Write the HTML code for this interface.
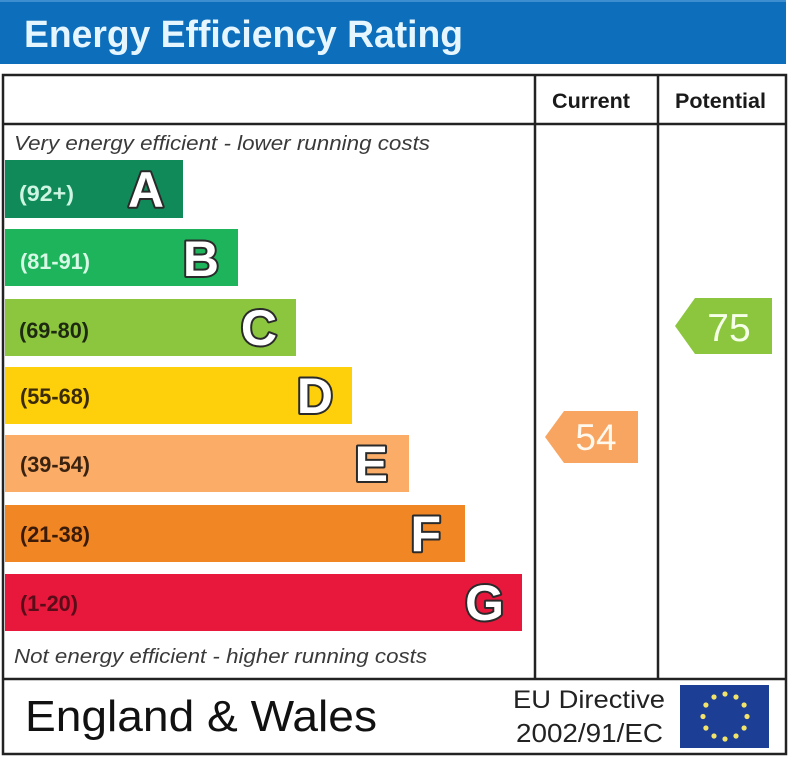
<!DOCTYPE html>
<html>
<head>
<meta charset="utf-8">
<style>
  html, body { margin: 0; padding: 0; background: #fff; }
  body { width: 800px; height: 765px; overflow: hidden; }
  svg { display: block; }
  text { font-family: "Liberation Sans", Arial, sans-serif; }
  .lbl { font-weight: bold; font-size: 22px; }
  .let { font-weight: bold; font-size: 50px; fill: #ffffff; stroke: #2a2a2a; stroke-width: 4; paint-order: stroke; stroke-linejoin: round; }
</style>
</head>
<body>
<svg width="800" height="765" viewBox="0 0 800 765" xmlns="http://www.w3.org/2000/svg">
  <rect x="0" y="0" width="800" height="765" fill="#ffffff"/>

  <!-- Title bar -->
  <rect x="0" y="0" width="786" height="64" fill="#0d6fbb"/>
  <rect x="0" y="0" width="786" height="2" fill="#3d8ed0"/>
  <text x="24" y="47" font-size="38" font-weight="bold" fill="#e6f6ff" textLength="439" lengthAdjust="spacingAndGlyphs">Energy Efficiency Rating</text>

  <!-- Table frame -->
  <rect x="3" y="75" width="783" height="679" fill="none" stroke="#222" stroke-width="2.5"/>
  <line x1="3" y1="124" x2="786" y2="124" stroke="#222" stroke-width="2.5"/>
  <line x1="535" y1="75" x2="535" y2="679" stroke="#222" stroke-width="2.5"/>
  <line x1="658" y1="75" x2="658" y2="679" stroke="#222" stroke-width="2.5"/>
  <line x1="3" y1="679" x2="786" y2="679" stroke="#222" stroke-width="2.5"/>

  <!-- Headers -->
  <text x="552" y="108" font-size="21" font-weight="bold" fill="#1a1a1a" textLength="78" lengthAdjust="spacingAndGlyphs">Current</text>
  <text x="675" y="108" font-size="21" font-weight="bold" fill="#1a1a1a" textLength="91" lengthAdjust="spacingAndGlyphs">Potential</text>

  <!-- Top/bottom captions -->
  <text x="14" y="150" font-size="20" font-style="italic" fill="#3a3a3a" textLength="416" lengthAdjust="spacingAndGlyphs">Very energy efficient - lower running costs</text>
  <text x="14" y="663" font-size="20" font-style="italic" fill="#3a3a3a" textLength="413" lengthAdjust="spacingAndGlyphs">Not energy efficient - higher running costs</text>

  <!-- Bands -->
  <rect x="5" y="160" width="178" height="58" fill="#118a5a"/>
  <text class="lbl" x="19" y="201" fill="#cdf5e2" textLength="55" lengthAdjust="spacingAndGlyphs">(92+)</text>
  <text class="let" x="164" y="207" text-anchor="end">A</text>

  <rect x="5" y="229" width="233" height="57" fill="#1db45c"/>
  <text class="lbl" x="20" y="269" fill="#d8f8e6" textLength="70" lengthAdjust="spacingAndGlyphs">(81-91)</text>
  <text class="let" x="219" y="276" text-anchor="end">B</text>

  <rect x="5" y="299" width="291" height="57" fill="#8cc63f"/>
  <text class="lbl" x="19" y="338" fill="#1e2a10" textLength="70" lengthAdjust="spacingAndGlyphs">(69-80)</text>
  <text class="let" x="277" y="345" text-anchor="end">C</text>

  <rect x="5" y="367" width="347" height="57" fill="#fdd00b"/>
  <text class="lbl" x="20" y="404" fill="#3a2a08" textLength="70" lengthAdjust="spacingAndGlyphs">(55-68)</text>
  <text class="let" x="333" y="413" text-anchor="end">D</text>

  <rect x="5" y="435" width="404" height="57" fill="#fbad68"/>
  <text class="lbl" x="20" y="472" fill="#3a2210" textLength="70" lengthAdjust="spacingAndGlyphs">(39-54)</text>
  <text class="let" x="388" y="481" text-anchor="end">E</text>

  <rect x="5" y="505" width="460" height="57" fill="#f08624"/>
  <text class="lbl" x="20" y="542" fill="#3a1a08" textLength="70" lengthAdjust="spacingAndGlyphs">(21-38)</text>
  <text class="let" x="441" y="551" text-anchor="end">F</text>

  <rect x="5" y="574" width="517" height="57" fill="#e8183c"/>
  <text class="lbl" x="20" y="611" fill="#5a0c18" textLength="58" lengthAdjust="spacingAndGlyphs">(1-20)</text>
  <text class="let" x="504" y="620" text-anchor="end">G</text>

  <!-- Current arrow 54 -->
  <polygon points="545,437 564,411 638,411 638,463 564,463" fill="#f8a562"/>
  <text x="596" y="450" font-size="37" fill="#fff8ec" text-anchor="middle">54</text>

  <!-- Potential arrow 75 -->
  <polygon points="675,326 695,298 772,298 772,354 695,354" fill="#8cc63f"/>
  <text x="729" y="341" font-size="39" fill="#f6ffe8" text-anchor="middle">75</text>

  <!-- Footer -->
  <text x="25" y="731" font-size="44" fill="#111" textLength="352" lengthAdjust="spacingAndGlyphs">England &amp; Wales</text>
  <text x="513" y="708" font-size="25" fill="#222" textLength="152" lengthAdjust="spacingAndGlyphs">EU Directive</text>
  <text x="516" y="742" font-size="26" fill="#222" textLength="147" lengthAdjust="spacingAndGlyphs">2002/91/EC</text>

  <!-- EU flag -->
  <rect x="680" y="685" width="89" height="63" fill="#1d3e95"/>
  <g fill="#f2e46a">
    <circle cx="725.0" cy="694.0" r="2.6"/>
    <circle cx="736.0" cy="697.0" r="2.6"/>
    <circle cx="744.1" cy="705.0" r="2.6"/>
    <circle cx="747.0" cy="716.5" r="2.6"/>
    <circle cx="744.1" cy="728.0" r="2.6"/>
    <circle cx="736.0" cy="736.0" r="2.6"/>
    <circle cx="725.0" cy="739.0" r="2.6"/>
    <circle cx="714.0" cy="736.0" r="2.6"/>
    <circle cx="705.9" cy="728.0" r="2.6"/>
    <circle cx="703.0" cy="716.5" r="2.6"/>
    <circle cx="705.9" cy="705.0" r="2.6"/>
    <circle cx="714.0" cy="697.0" r="2.6"/>
  </g>
</svg>
</body>
</html>
